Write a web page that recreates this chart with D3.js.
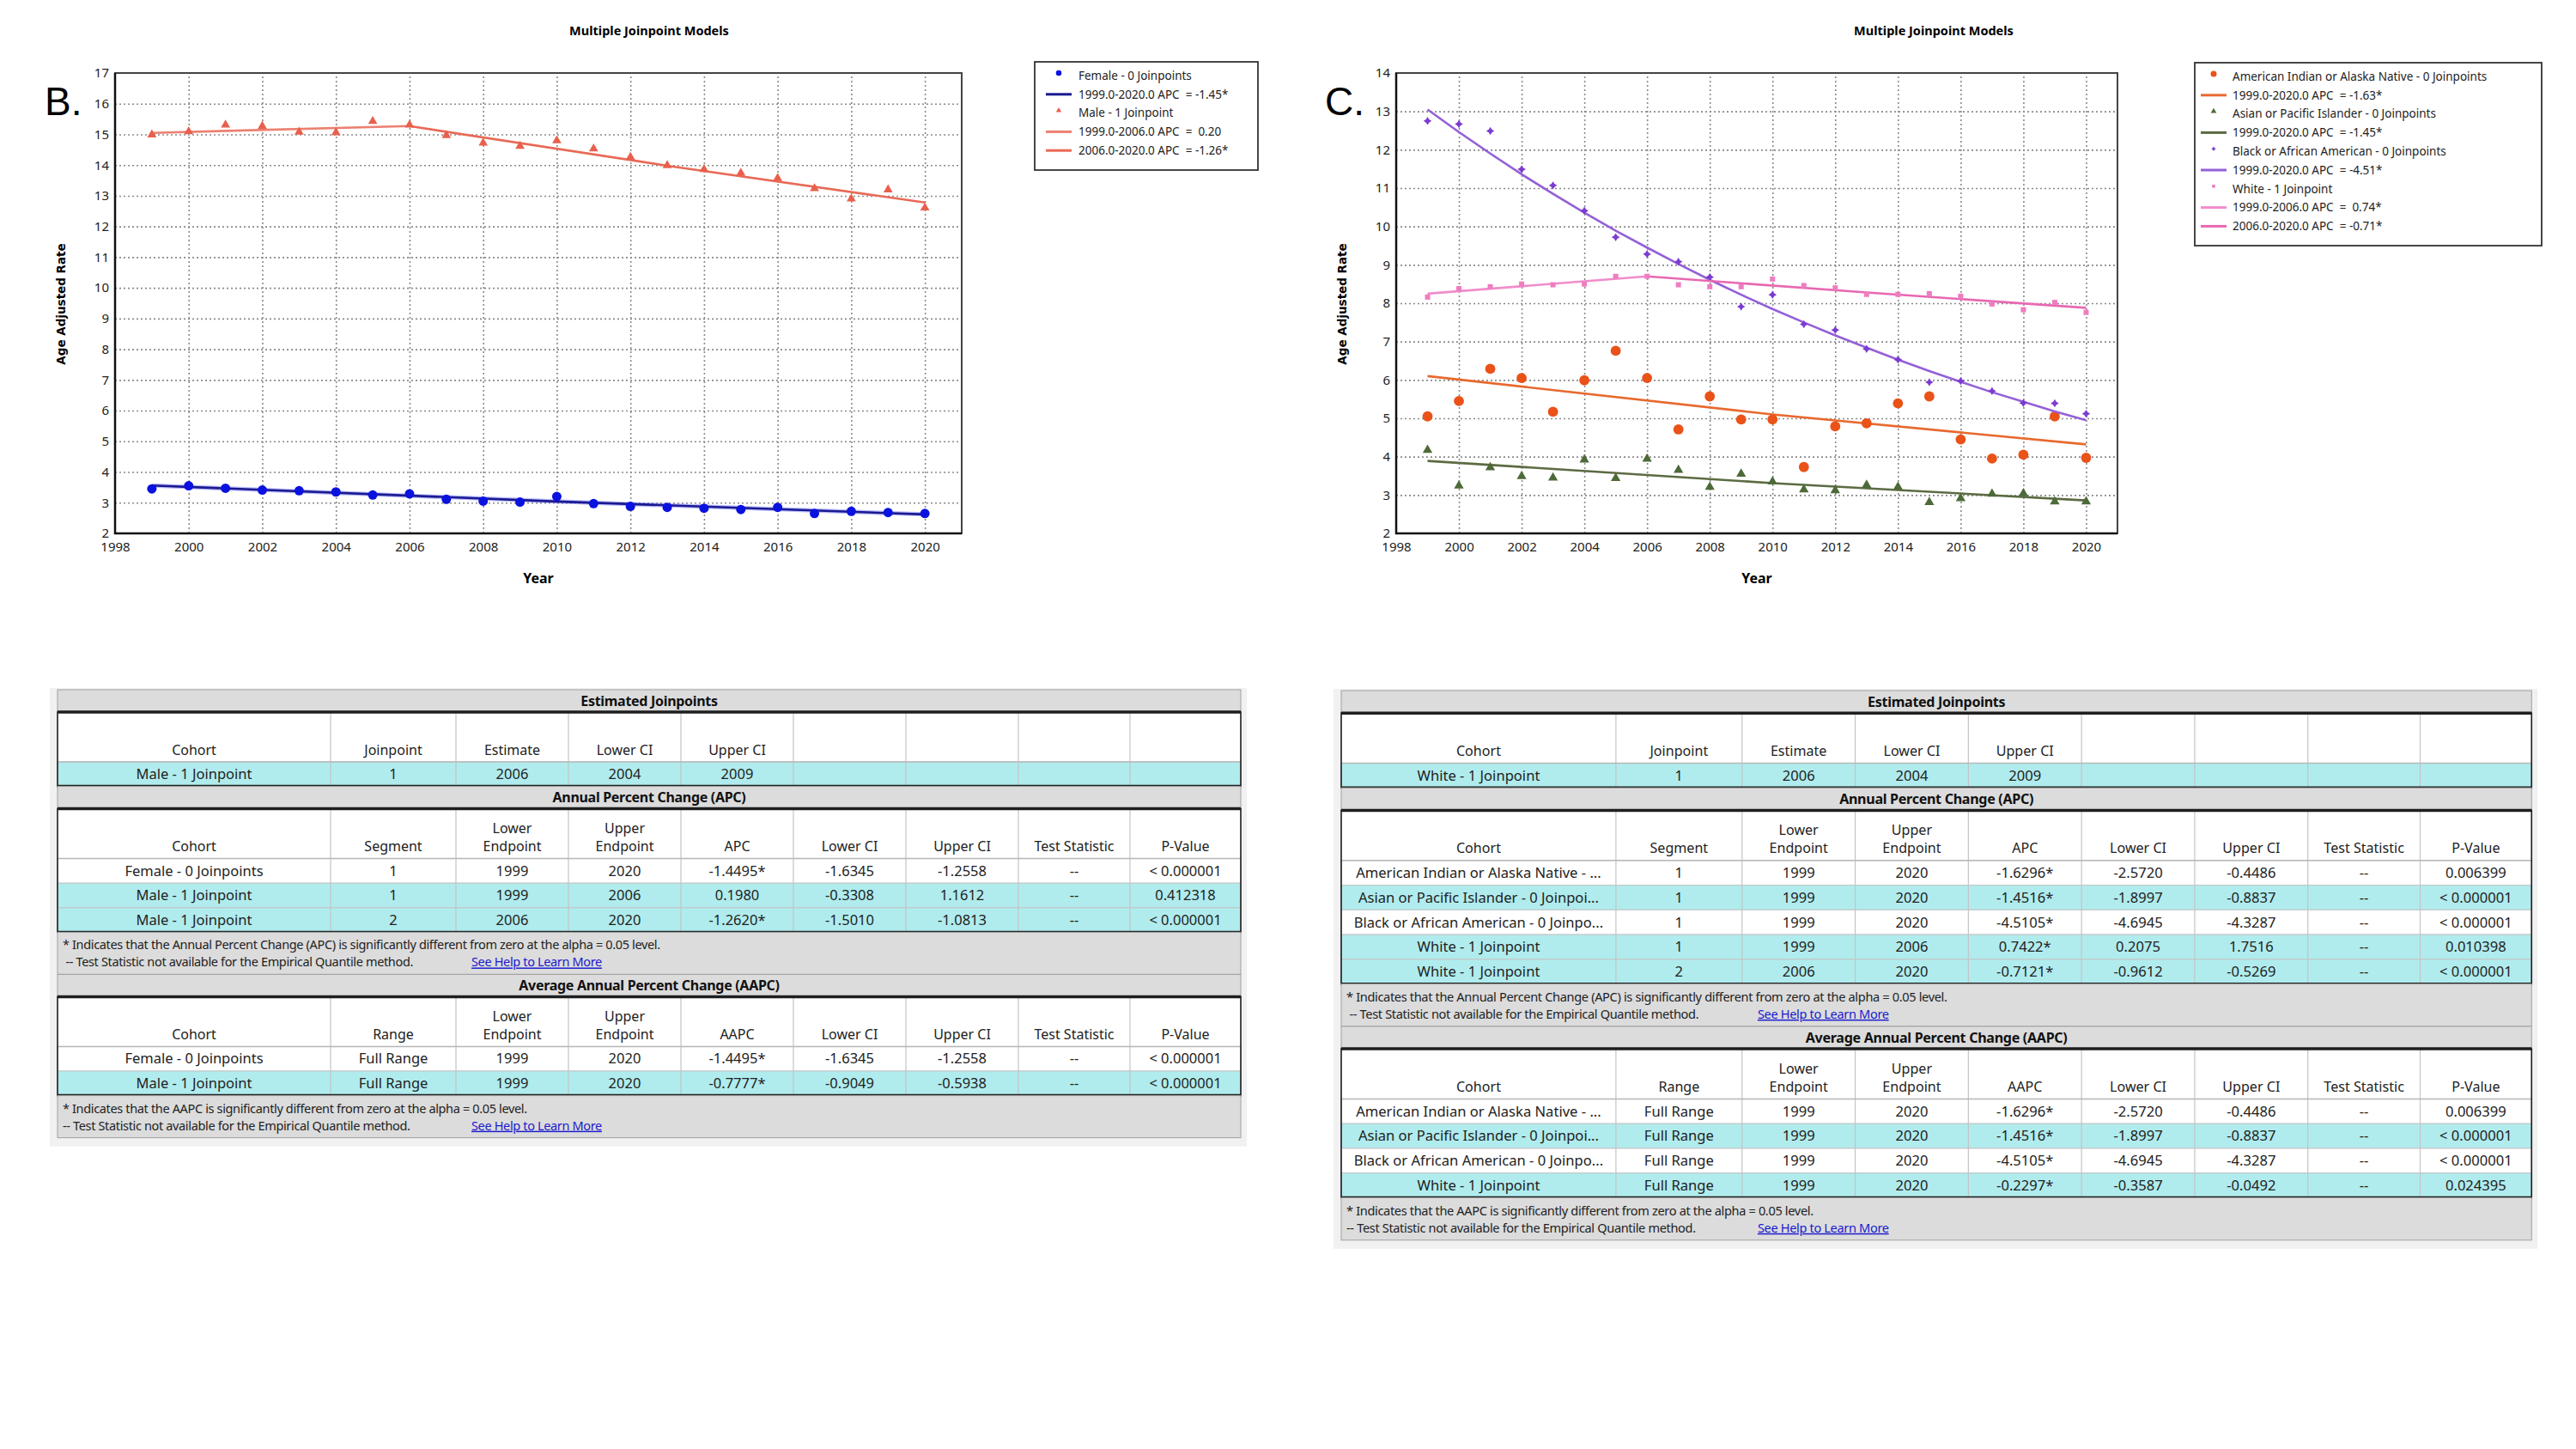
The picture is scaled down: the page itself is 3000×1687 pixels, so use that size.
<!DOCTYPE html>
<meta charset="utf-8">
<script src="https://d3js.org/d3.v7.min.js"></script>
<style>body{margin:0;background:#fff} svg text{white-space:pre}</style>
<div id="fig"></div>
<script>
// ---- data ----
var years = [1999,2000,2001,2002,2003,2004,2005,2006,2007,2008,2009,2010,2011,2012,2013,2014,2015,2016,2017,2018,2019,2020];
var xTicks = [1998,2000,2002,2004,2006,2008,2010,2012,2014,2016,2018,2020];
var yTicksB = [2,3,4,5,6,7,8,9,10,11,12,13,14,15,16,17];
var yTicksC = [2,3,4,5,6,7,8,9,10,11,12,13,14];

// panel B : sex
var femaleRate = [3.45,3.55,3.47,3.41,3.39,3.35,3.25,3.29,3.11,3.05,3.02,3.20,2.97,2.88,2.85,2.82,2.78,2.85,2.65,2.72,2.68,2.65];
var maleRate = [14.99,15.09,15.31,15.27,15.08,15.06,15.43,15.31,14.97,14.72,14.62,14.80,14.53,14.26,13.99,13.86,13.74,13.57,13.24,12.90,13.20,12.61];
var femaleFit = [[1999,3.56],[2010,3.04],[2020,2.62]];
var maleFit1 = [[1999,15.05],[2006,15.27]];
var maleFit2 = [[2006,15.27],[2013,13.98],[2020,12.78]];
var legendB = ["Female - 0 Joinpoints","1999.0-2020.0 APC  = -1.45*","Male - 1 Joinpoint","1999.0-2006.0 APC  =  0.20","2006.0-2020.0 APC  = -1.26*"];

// panel C : race
var aianRate = [5.05,5.45,6.29,6.05,5.17,5.99,6.76,6.05,4.71,5.57,4.97,4.97,3.73,4.79,4.87,5.39,5.57,4.45,3.95,4.05,5.05,3.97];
var apiRate = [4.17,3.24,3.72,3.49,3.45,3.92,3.44,3.94,3.65,3.21,3.55,3.35,3.14,3.12,3.26,3.21,2.81,2.91,3.03,3.04,2.83,2.83];
var blackRate = [12.75,12.67,12.49,11.49,11.07,10.41,9.72,9.28,9.08,8.68,7.91,8.22,7.45,7.30,6.81,6.53,5.94,5.97,5.71,5.40,5.39,5.12];
var whiteRate = [8.16,8.38,8.43,8.50,8.48,8.50,8.70,8.70,8.48,8.43,8.43,8.63,8.46,8.40,8.23,8.23,8.25,8.18,7.98,7.83,8.02,7.76];
var aianFit = [[1999,6.10],[2010,5.10],[2020,4.32]];
var apiFit = [[1999,3.89],[2010,3.31],[2020,2.86]];
var blackFit = [13.05,12.46,11.90,11.36,10.85,10.36,9.89,9.45,9.02,8.61,8.22,7.85,7.50,7.16,6.84,6.53,6.23,5.95,5.68,5.43,5.18,4.95];
var whiteFit1 = [[1999,8.25],[2006,8.70]];
var whiteFit2 = [[2006,8.70],[2013,8.28],[2020,7.88]];
var legendC = ["American Indian or Alaska Native - 0 Joinpoints","1999.0-2020.0 APC  = -1.63*","Asian or Pacific Islander - 0 Joinpoints","1999.0-2020.0 APC  = -1.45*","Black or African American - 0 Joinpoints","1999.0-2020.0 APC  = -4.51*","White - 1 Joinpoint","1999.0-2006.0 APC  =  0.74*","2006.0-2020.0 APC  = -0.71*"];

// tables
var cohortsB = ["Female - 0 Joinpoints","Male - 1 Joinpoint"];
var cohortsC = ["American Indian or Alaska Native - 0 Joinpoints","Asian or Pacific Islander - 0 Joinpoints","Black or African American - 0 Joinpoints","White - 1 Joinpoint"];
var jpHeader = ["Cohort","Joinpoint","Estimate","Lower CI","Upper CI","","","",""];
var apcHeader = ["Cohort","Segment","Lower\nEndpoint","Upper\nEndpoint","APC","Lower CI","Upper CI","Test Statistic","P-Value"];
var aapcHeader = ["Cohort","Range","Lower\nEndpoint","Upper\nEndpoint","AAPC","Lower CI","Upper CI","Test Statistic","P-Value"];
var jpRowsB = [["Male - 1 Joinpoint","1","2006","2004","2009","","","",""]];
var apcRowsB = [
  ["Female - 0 Joinpoints","1","1999","2020","-1.4495*","-1.6345","-1.2558","--","< 0.000001"],
  ["Male - 1 Joinpoint","1","1999","2006","0.1980","-0.3308","1.1612","--","0.412318"],
  ["Male - 1 Joinpoint","2","2006","2020","-1.2620*","-1.5010","-1.0813","--","< 0.000001"]];
var aapcRowsB = [
  ["Female - 0 Joinpoints","Full Range","1999","2020","-1.4495*","-1.6345","-1.2558","--","< 0.000001"],
  ["Male - 1 Joinpoint","Full Range","1999","2020","-0.7777*","-0.9049","-0.5938","--","< 0.000001"]];
var jpRowsC = [["White - 1 Joinpoint","1","2006","2004","2009","","","",""]];
var apcRowsC = [
  ["American Indian or Alaska Native - ...","1","1999","2020","-1.6296*","-2.5720","-0.4486","--","0.006399"],
  ["Asian or Pacific Islander - 0 Joinpoi...","1","1999","2020","-1.4516*","-1.8997","-0.8837","--","< 0.000001"],
  ["Black or African American - 0 Joinpo...","1","1999","2020","-4.5105*","-4.6945","-4.3287","--","< 0.000001"],
  ["White - 1 Joinpoint","1","1999","2006","0.7422*","0.2075","1.7516","--","0.010398"],
  ["White - 1 Joinpoint","2","2006","2020","-0.7121*","-0.9612","-0.5269","--","< 0.000001"]];
var aapcRowsC = [
  ["American Indian or Alaska Native - ...","Full Range","1999","2020","-1.6296*","-2.5720","-0.4486","--","0.006399"],
  ["Asian or Pacific Islander - 0 Joinpoi...","Full Range","1999","2020","-1.4516*","-1.8997","-0.8837","--","< 0.000001"],
  ["Black or African American - 0 Joinpo...","Full Range","1999","2020","-4.5105*","-4.6945","-4.3287","--","< 0.000001"],
  ["White - 1 Joinpoint","Full Range","1999","2020","-0.2297*","-0.3587","-0.0492","--","0.024395"]];
var apcNote = ["* Indicates that the Annual Percent Change (APC) is significantly different from zero at the alpha = 0.05 level.", " -- Test Statistic not available for the Empirical Quantile method."];
var aapcNote = ["* Indicates that the AAPC is significantly different from zero at the alpha = 0.05 level.", "-- Test Statistic not available for the Empirical Quantile method."];
var helpLink = "See Help to Learn More";

// ---- drawing ----
var svg = d3.select("#fig").append("svg")
  .attr("width",3000).attr("height",1687)
  .style("background","#fff")
  .style("font-family","'Noto Sans', sans-serif");

// 4 point star for the black series
var star4 = {draw: function(ctx, size){
  var r = Math.sqrt(size)*0.75, k = r*0.38;
  ctx.moveTo(0,-r); ctx.lineTo(k,-k); ctx.lineTo(r,0); ctx.lineTo(k,k);
  ctx.lineTo(0,r); ctx.lineTo(-k,k); ctx.lineTo(-r,0); ctx.lineTo(-k,-k); ctx.closePath();
}};

function zipYears(vals){ return years.map(function(y,i){ return [y, vals[i]]; }); }

function drawChart(c){
  var x = d3.scaleLinear().domain([1998,2021]).range([c.left,c.right]);
  var y = d3.scaleLinear().domain([c.yTicks[0], c.yTicks[c.yTicks.length-1]]).range([c.bottom,c.top]);
  var g = svg.append("g");
  var w = c.right - c.left, h = c.bottom - c.top;

  // grid
  g.append("g").attr("transform","translate("+c.left+",0)")
    .call(d3.axisLeft(y).tickValues(c.yTicks.slice(1,-1)).tickSize(-w).tickFormat(""))
    .call(function(s){ s.select(".domain").remove(); s.selectAll("line").attr("stroke","#8a8a8a").attr("stroke-width",1.6).attr("stroke-dasharray","2,3"); });
  g.append("g").attr("transform","translate(0,"+c.bottom+")")
    .call(d3.axisBottom(x).tickValues(xTicks.slice(1)).tickSize(-h).tickFormat(""))
    .call(function(s){ s.select(".domain").remove(); s.selectAll("line").attr("stroke","#8a8a8a").attr("stroke-width",1.6).attr("stroke-dasharray","2,3"); });

  // frame
  g.append("rect").attr("x",c.left).attr("y",c.top).attr("width",w).attr("height",h)
    .attr("fill","none").attr("stroke","#444").attr("stroke-width",2);
  g.append("path").attr("d","M"+c.left+","+c.top+"V"+c.bottom+"H"+c.right)
    .attr("fill","none").attr("stroke","#111").attr("stroke-width",2.5);

  // tick labels
  g.append("g").attr("transform","translate("+c.left+",0)")
    .call(d3.axisLeft(y).tickValues(c.yTicks).tickSize(0).tickPadding(7).tickFormat(d3.format("d")))
    .call(function(s){ s.select(".domain").remove(); s.selectAll("text").attr("font-size",15).attr("fill","#222").attr("font-family","'Noto Sans', sans-serif"); });
  g.append("g").attr("transform","translate(0,"+c.bottom+")")
    .call(d3.axisBottom(x).tickValues(xTicks).tickSize(0).tickPadding(10).tickFormat(d3.format("d")))
    .call(function(s){ s.select(".domain").remove(); s.selectAll("text").attr("font-size",15).attr("fill","#222").attr("font-family","'Noto Sans', sans-serif"); });

  // titles
  g.append("text").attr("x",c.titleX).attr("y",41).attr("text-anchor","middle")
    .attr("font-size",14.5).attr("font-weight","bold").text("Multiple Joinpoint Models");
  g.append("text").attr("x",(c.left+c.right)/2).attr("y",679).attr("text-anchor","middle")
    .attr("font-size",16).attr("font-weight","bold").text("Year");
  g.append("text").attr("transform","translate("+c.yLabelX+",354) rotate(-90)").attr("text-anchor","middle")
    .attr("font-family","'DejaVu Sans', sans-serif").attr("font-size",13.5).attr("font-weight","bold").text("Age Adjusted Rate");
  g.append("text").attr("x",c.letterX).attr("y",134).attr("font-family","'Liberation Sans', sans-serif")
    .attr("font-size",46).text(c.letter);

  var line = d3.line().x(function(d){ return x(d[0]); }).y(function(d){ return y(d[1]); });
  c.series.forEach(function(s){
    s.fits.forEach(function(f, i){
      if (s.halo) g.append("path").attr("d",line(f)).attr("fill","none").attr("stroke",s.halo).attr("stroke-width",5).attr("opacity",0.5);
      g.append("path").attr("d",line(f)).attr("fill","none").attr("stroke",s.lineColor[i]).attr("stroke-width",2.6);
    });
    g.append("g").selectAll("path").data(zipYears(s.rate)).join("path")
      .attr("transform",function(d){ return "translate("+x(d[0])+","+y(d[1])+")"; })
      .attr("d",d3.symbol(s.shape, s.size))
      .attr("fill",s.color);
  });

  // legend
  var L = c.legend;
  g.append("rect").attr("x",L.x).attr("y",L.y).attr("width",L.w).attr("height",L.h)
    .attr("fill","#fff").attr("stroke","#333").attr("stroke-width",1.8);
  var rows = [];
  c.series.forEach(function(s){
    rows.push({kind:"pt", s:s});
    s.fits.forEach(function(f,i){ rows.push({kind:"ln", s:s, color:s.lineColor[i]}); });
  });
  rows.forEach(function(r, i){
    var cy = L.y + 16 + i*21.8;
    if (r.kind === "pt") {
      g.append("path").attr("transform","translate("+(L.x+L.sym)+","+(cy-3)+")")
        .attr("d",d3.symbol(r.s.shape, r.s.size*0.35)).attr("fill",r.s.color);
    } else {
      g.append("line").attr("x1",L.x+L.sym-15).attr("x2",L.x+L.sym+15).attr("y1",cy).attr("y2",cy)
        .attr("stroke",r.color).attr("stroke-width",3);
    }
    g.append("text").attr("x",L.x+L.text).attr("y",cy).attr("dy","0.35em")
      .attr("font-size",13.5).attr("fill","#222").text(c.legendText[i]);
  });
}

drawChart({
  left:134, right:1120, top:85, bottom:621, yTicks:yTicksB, titleX:756, yLabelX:76, letterX:52, letter:"B.",
  legend:{x:1205, y:72, w:260, h:126, sym:28, text:51}, legendText:legendB,
  series:[
    {rate:femaleRate, fits:[femaleFit], color:"#0a12e0", lineColor:["#1a1a90"], halo:"#7a7aff", shape:d3.symbolCircle, size:95},
    {rate:maleRate, fits:[maleFit1, maleFit2], color:"#e8604c", lineColor:["#ec8070","#e86a56"], shape:d3.symbolTriangle, size:50}
  ]
});

drawChart({
  left:1626, right:2466, top:85, bottom:621, yTicks:yTicksC, titleX:2252, yLabelX:1568, letterX:1543, letter:"C.",
  legend:{x:2556, y:73, w:404, h:213, sym:22, text:44}, legendText:legendC,
  series:[
    {rate:aianRate, fits:[aianFit], color:"#ea5218", lineColor:["#e8692e"], shape:d3.symbolCircle, size:110},
    {rate:apiRate, fits:[apiFit], color:"#4d6a38", lineColor:["#5b6b42"], shape:d3.symbolTriangle, size:55},
    {rate:blackRate, fits:[zipYears(blackFit)], color:"#7c3cd0", lineColor:["#9460d8"], shape:star4, size:40},
    {rate:whiteRate, fits:[whiteFit1, whiteFit2], color:"#f07cc0", lineColor:["#f08ccb","#e868b2"], shape:d3.symbolSquare, size:36}
  ]
});

// ---- tables ----
var cols = [318,146,131,131,131,131,131,130,129];
var colX = [0]; cols.forEach(function(w,i){ colX.push(colX[i]+w); });
var TW = colX[cols.length];
var SEC = 26, HDR = 58, ROW = 28.6, FOOT = 49;

function drawTable(t){
  var outer = svg.append("g").attr("transform","translate("+t.x+","+t.y+") scale("+t.s+")");
  var yy = 0;
  var shadeOf = function(name){
    var key = name.replace("...","");
    var idx = t.cohorts.findIndex(function(c){ return c.indexOf(key) === 0; });
    return idx % 2 === 1 ? "#b0ecee" : "#ffffff";
  };

  function fitText(sel, maxW){
    sel.each(function(){
      var len = this.getComputedTextLength();
      if (len > maxW) d3.select(this).attr("textLength",maxW).attr("lengthAdjust","spacingAndGlyphs");
    });
  }

  function section(title){
    outer.append("rect").attr("x",0).attr("y",yy).attr("width",TW).attr("height",SEC)
      .attr("fill","#dcdcdc").attr("stroke","#a0a0a0").attr("stroke-width",1);
    outer.append("text").attr("x",TW/2).attr("y",yy+SEC/2).attr("dy","0.35em").attr("text-anchor","middle")
      .attr("font-size",16).attr("font-weight","bold").attr("fill","#111").attr("letter-spacing",-0.3).text(title);
    yy += SEC;
  }

  function block(header, rows){
    var top = yy;
    outer.append("rect").attr("x",0).attr("y",top).attr("width",TW).attr("height",HDR).attr("fill","#fff");
    var hg = outer.append("g");
    header.forEach(function(hd, j){
      if (!hd) return;
      var parts = hd.split("\n");
      parts.forEach(function(p, k){
        hg.append("text").attr("x",colX[j]+cols[j]/2).attr("y",top+HDR-14-(parts.length-1-k)*21).attr("dy","0.35em")
          .attr("text-anchor","middle").attr("font-size",16).attr("fill","#222").text(p);
      });
    });
    var rg = outer.append("g").selectAll("g").data(rows).join("g")
      .attr("transform",function(d,i){ return "translate(0,"+(top+HDR+i*ROW)+")"; });
    rg.append("rect").attr("width",TW).attr("height",ROW).attr("fill",function(d){ return shadeOf(d[0]); })
      .attr("stroke","#c4c4c4").attr("stroke-width",1);
    rg.selectAll("text").data(function(d){ return d; }).join("text")
      .attr("x",function(d,j){ return colX[j]+cols[j]/2; }).attr("y",ROW/2).attr("dy","0.35em")
      .attr("text-anchor","middle").attr("font-size",16.5).attr("fill","#222").text(function(d){ return d; })
      .call(fitText, cols[0]-12);
    var bottom = top + HDR + rows.length*ROW;
    // column separators
    outer.append("g").selectAll("line").data(colX.slice(1,-1)).join("line")
      .attr("x1",function(d){ return d; }).attr("x2",function(d){ return d; })
      .attr("y1",top).attr("y2",bottom).attr("stroke","#c4c4c4").attr("stroke-width",1.2);
    outer.append("line").attr("x1",0).attr("x2",TW).attr("y1",top+HDR).attr("y2",top+HDR).attr("stroke","#b8b8b8").attr("stroke-width",1.5);
    // dark frame
    outer.append("rect").attr("x",0).attr("y",top).attr("width",TW).attr("height",bottom-top)
      .attr("fill","none").attr("stroke","#1e1e1e").attr("stroke-width",1.6);
    outer.append("line").attr("x1",0).attr("x2",TW).attr("y1",top).attr("y2",top).attr("stroke","#1e1e1e").attr("stroke-width",3.5);
    outer.append("line").attr("x1",0).attr("x2",TW).attr("y1",bottom).attr("y2",bottom).attr("stroke","#1e1e1e").attr("stroke-width",3.5);
    yy = bottom;
  }

  function foot(lines){
    outer.append("rect").attr("x",0).attr("y",yy).attr("width",TW).attr("height",FOOT)
      .attr("fill","#dcdcdc").attr("stroke","#a0a0a0").attr("stroke-width",1);
    outer.append("text").attr("x",6).attr("y",yy+15).attr("dy","0.35em").attr("font-size",14.5).attr("fill","#222")
      .attr("letter-spacing",-0.35).text(lines[0]);
    var t2 = outer.append("text").attr("x",6).attr("y",yy+35).attr("dy","0.35em").attr("font-size",14.5).attr("fill","#222")
      .attr("letter-spacing",-0.35);
    t2.append("tspan").text(lines[1]);
    t2.append("tspan").attr("x",482).attr("fill","#1a1acc").attr("text-decoration","underline").text(helpLink);
    yy += FOOT;
  }

  outer.append("rect").attr("x",-9).attr("y",-2).attr("width",TW+16).attr("height",SEC*3+HDR*3+ROW*(t.jp.length+t.apc.length+t.aapc.length)+FOOT*2+12)
    .attr("fill","#f1f1f1");
  section("Estimated Joinpoints");
  block(jpHeader, t.jp);
  section("Annual Percent Change (APC)");
  block(apcHeader, t.apc);
  foot(apcNote);
  section("Average Annual Percent Change (AAPC)");
  block(aapcHeader, t.aapc);
  foot(aapcNote);
}

drawTable({x:67, y:803, s:1, cohorts:cohortsB, jp:jpRowsB, apc:apcRowsB, aapc:aapcRowsB});
drawTable({x:1562, y:804, s:1.006, cohorts:cohortsC, jp:jpRowsC, apc:apcRowsC, aapc:aapcRowsC});
</script>
